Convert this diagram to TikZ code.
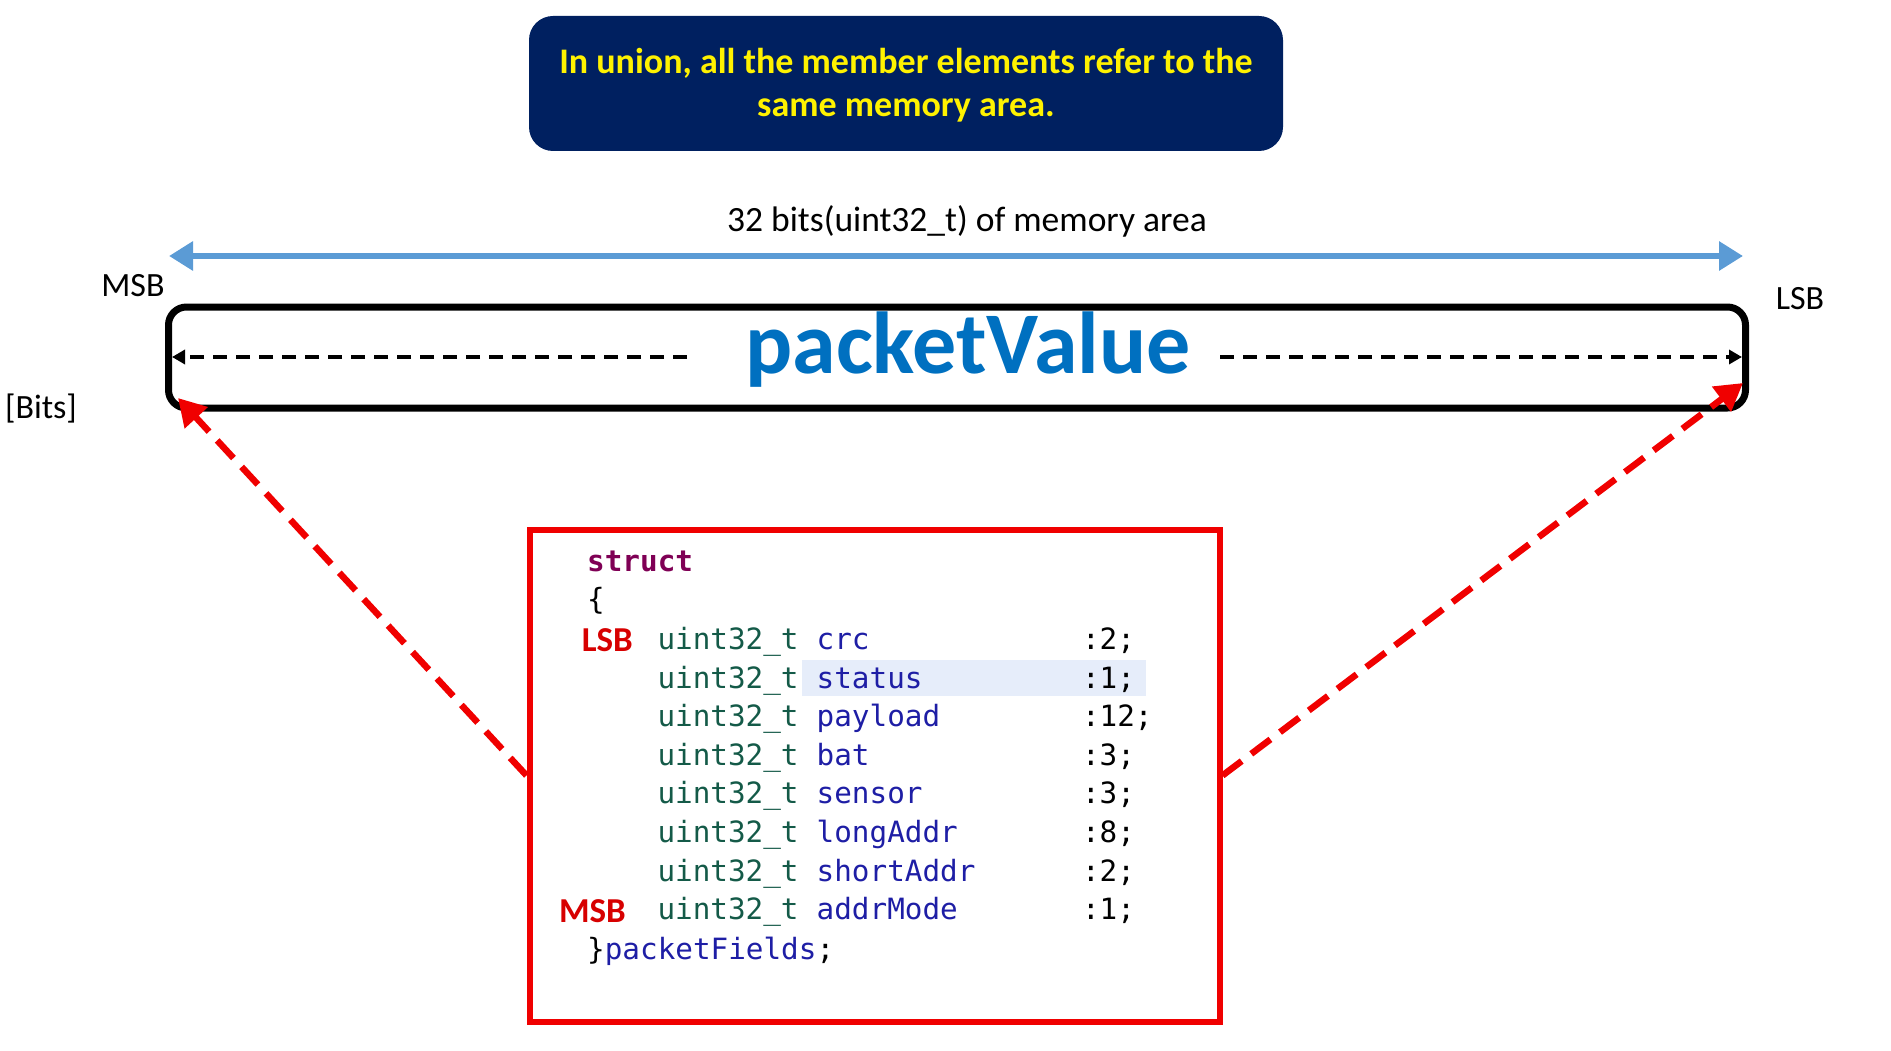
\documentclass[tikz,border=0pt]{standalone}
\usepackage{fontspec}
\setmainfont{Carlito}
\newfontfamily\codefont{DejaVu Sans Mono}
\usetikzlibrary{arrows.meta}
\definecolor{navybox}{RGB}{0,32,96}
\definecolor{memblue}{RGB}{91,155,213}
\definecolor{pvblue}{RGB}{0,112,192}
\definecolor{kwpurple}{RGB}{127,0,85}
\definecolor{typegreen}{RGB}{20,90,72}
\definecolor{fieldblue}{RGB}{30,30,165}
\definecolor{hlblue}{RGB}{230,237,250}
\definecolor{redline}{RGB}{240,0,0}
\definecolor{redlbl}{RGB}{215,0,0}
\tikzset{
  lbl/.style={inner sep=0pt, font=\fontsize{34}{40}\selectfont},
  code/.style={inner sep=0pt, anchor=mid west, font=\codefont\fontsize{29.3}{35}\selectfont},
  redlabel/.style={inner sep=0pt, anchor=mid east, text=redlbl, font=\bfseries\fontsize{35}{40}\selectfont},
  reddash/.style={draw=redline, line width=6.5pt, dash pattern=on 24pt off 12pt, -{Triangle[length=27pt,width=30pt]}},
  blackdash/.style={draw=black, line width=3.5pt, dash pattern=on 14pt off 9pt, -{Triangle[length=13pt,width=14pt]}}
}
\begin{document}
\begin{tikzpicture}[x=1pt,y=-1pt]
\useasboundingbox (0,0) rectangle (1891,1051);
% top note
\node (note) [fill=navybox, rounded corners=24pt, minimum width=754pt, minimum height=135pt, inner sep=0pt] at (906,83.5) {};
\node (notetext) [text=yellow, align=center, inner sep=0pt, font=\bfseries\fontsize{36}{43}\selectfont] at (906,85) {In union, all the member elements refer to the\\same memory area.};
% memory label and arrow
\node (memlbl) [lbl, font=\fontsize{35.5}{40}\selectfont] at (967,221) {32 bits(uint32\_t) of memory area};
\coordinate (bl) at (169,256);
\coordinate (br) at (1743,256);
\draw[memblue, line width=6pt, {Triangle[length=24pt,width=28pt]}-{Triangle[length=24pt,width=28pt]}] (bl) -- (br);
\node (msb) [lbl] at (133,286) {MSB};
\node (lsb) [lbl] at (1800,299) {LSB};
\node (bits) [lbl] at (41,409) {[Bits]};
% packet box
\node (pbox) [draw, line width=7pt, rounded corners=18pt, minimum width=1577pt, minimum height=101pt, inner sep=0pt] at (957,357.5) {};
\node (pv) [text=pvblue, inner sep=0pt, font=\bfseries\fontsize{88}{90}\selectfont] at (968,350) {packetValue};
\coordinate (dl1) at (687,357);
\coordinate (dl2) at (172,357);
\coordinate (dr1) at (1220,357);
\coordinate (dr2) at (1742,357);
\draw[blackdash] (dl1) -- (dl2);
\draw[blackdash] (dr1) -- (dr2);
% red box
\node (rbox) [draw=redline, line width=6pt, minimum width=690pt, minimum height=492pt, inner sep=0pt] at (874.5,775.5) {};
\coordinate (tipl) at (178,398);
\coordinate (tipr) at (1743,383);
\draw[reddash] (rbox.west) -- (tipl);
\draw[reddash] (rbox.east) -- (tipr);
% highlight
\node (hl) [fill=hlblue, minimum width=344pt, minimum height=36pt, inner sep=0pt] at (974,678) {};
% code
\node (kw) [code, text=kwpurple, font=\codefont\bfseries\fontsize{29.3}{35}\selectfont] at (587,569) {struct};
\node (ob) [code] at (587,607.4) {\{};
\foreach \i/\nm/\bw in {1/crc/:2;,2/status/:1;,3/payload/:12;,4/bat/:3;,5/sensor/:3;,6/longAddr/:8;,7/shortAddr/:2;,8/addrMode/:1;}{
  \pgfmathsetmacro{\yy}{647.2+(\i-1)*38.59}
  \node (ty\i) [code, text=typegreen] at (657.3,\yy) {uint32\_t};
  \node (nm\i) [code, text=fieldblue] at (816.5,\yy) {\nm};
  \node (bw\i) [code] at (1081.8,\yy) {\bw};
}
\node (lsbc) [redlabel] at (633,649.5) {LSB};
\node (msbc) [redlabel] at (626,920) {MSB};
\node (cb) [code] at (587,957.1) {\}\textcolor{fieldblue}{packetFields};};
\end{tikzpicture}
\end{document}
